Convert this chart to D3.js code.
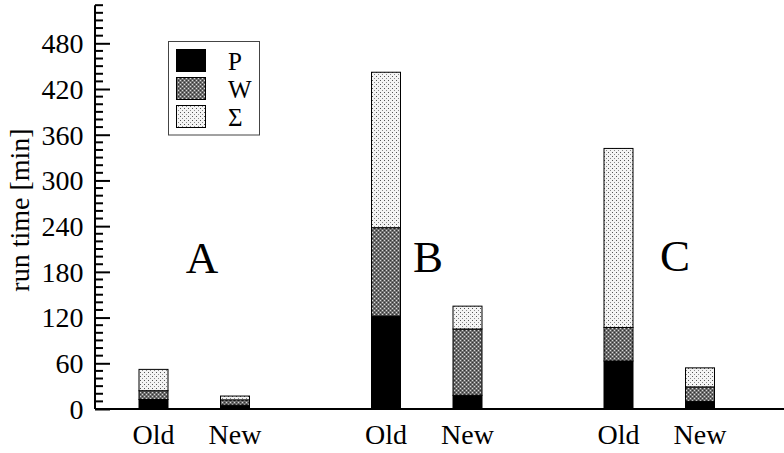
<!DOCTYPE html>
<html><head><meta charset="utf-8">
<script src="https://cdn.jsdelivr.net/npm/d3@7"></script>
<style>html,body{margin:0;padding:0;background:#fff;} svg{display:block;font-family:"Liberation Serif","Times New Roman",serif;}</style>
</head><body>
<script>
const groups = ["A", "B", "C"];
const versions = ["Old", "New"];
const seriesNames = ["P", "W", "Σ"];
// per bar in order: A-Old, A-New, B-Old, B-New, C-Old, C-New  (minutes)
const pValues = [12.5, 5, 122, 18, 63, 10];
const wValues = [11.5, 7, 116, 87, 44, 19];
const sValues = [28, 5, 204, 30, 235, 25];
const yTicks = [0, 60, 120, 180, 240, 300, 360, 420, 480];

const W = 784, H = 453;
const svg = d3.select("body").append("svg").attr("width", W).attr("height", H);

const defs = svg.append("defs");
// W pattern: dark grey checker
const pw = defs.append("pattern").attr("id", "patW").attr("patternUnits", "userSpaceOnUse").attr("width", 4).attr("height", 4);
pw.append("rect").attr("width", 4).attr("height", 4).attr("fill", "#6e6e6e");
pw.append("rect").attr("x", 0).attr("y", 0).attr("width", 1).attr("height", 1).attr("fill", "#d8d8d8");
pw.append("rect").attr("x", 2).attr("y", 2).attr("width", 1).attr("height", 1).attr("fill", "#d8d8d8");
pw.append("rect").attr("x", 2).attr("y", 0).attr("width", 1).attr("height", 1).attr("fill", "#333");
pw.append("rect").attr("x", 0).attr("y", 2).attr("width", 1).attr("height", 1).attr("fill", "#333");
// Σ pattern: sparse dots on white
const ps = defs.append("pattern").attr("id", "patS").attr("patternUnits", "userSpaceOnUse").attr("width", 4).attr("height", 4);
ps.append("rect").attr("width", 4).attr("height", 4).attr("fill", "#f4f4f4");
ps.append("rect").attr("x", 0).attr("y", 0).attr("width", 1).attr("height", 1).attr("fill", "#555");
ps.append("rect").attr("x", 2).attr("y", 2).attr("width", 1).attr("height", 1).attr("fill", "#888");

const fills = {"P": "#000", "W": "url(#patW)", "Σ": "url(#patS)"};

const y = d3.scaleLinear().domain([0, 530]).range([409, 5.2]);
const xg = d3.scalePoint().domain(groups).range([194.25, 659.25]);
const xv = d3.scalePoint().domain(versions).range([-40.75, 40.75]);
const barW = 29;

const rows = [];
groups.forEach((g, gi) => versions.forEach((v, vi) => {
  const i = gi * versions.length + vi;
  rows.push({group: g, version: v, "P": pValues[i], "W": wValues[i], "Σ": sValues[i]});
}));
const stacked = d3.stack().keys(seriesNames)(rows);

const axisX = 95;
// bars
const gBars = svg.append("g");
stacked.forEach(layer => {
  gBars.selectAll(null).data(layer).enter().append("rect")
    .attr("x", d => xg(d.data.group) + xv(d.data.version) - barW / 2)
    .attr("y", d => y(d[1]))
    .attr("width", barW)
    .attr("height", d => y(d[0]) - y(d[1]))
    .attr("fill", fills[layer.key])
    .attr("stroke", "#000").attr("stroke-width", 1);
});

// y axis
const yAxis = d3.axisRight(y).tickValues(yTicks).tickSize(15).tickFormat("");
const ga = svg.append("g").attr("transform", `translate(${axisX},0)`).call(yAxis);
ga.select(".domain").remove();
ga.selectAll(".tick line").attr("stroke", "#000").attr("stroke-width", 2);
const minor = d3.range(0, 531, 10).filter(v => v % 60 !== 0);
svg.append("g").selectAll("line").data(minor).enter().append("line")
  .attr("x1", axisX).attr("x2", axisX + 8)
  .attr("y1", d => y(d)).attr("y2", d => y(d))
  .attr("stroke", "#000").attr("stroke-width", 2);
svg.append("line").attr("x1", axisX).attr("x2", axisX).attr("y1", y(530)).attr("y2", y(0))
  .attr("stroke", "#000").attr("stroke-width", 2);
svg.append("g").selectAll("text").data(yTicks).enter().append("text")
  .attr("x", axisX - 11.5).attr("y", d => y(d)).attr("dy", "0.35em")
  .attr("text-anchor", "end").attr("font-size", 28).text(d => d);

// x baseline
svg.append("line").attr("x1", axisX).attr("x2", W).attr("y1", y(0)).attr("y2", y(0))
  .attr("stroke", "#000").attr("stroke-width", 2);
// x labels
svg.append("g").selectAll("text").data(rows).enter().append("text")
  .attr("x", d => xg(d.group) + xv(d.version)).attr("y", 444)
  .attr("text-anchor", "middle").attr("font-size", 28).text(d => d.version);

// axis title
svg.append("text").attr("transform", "translate(28.5,210) rotate(-90)")
  .attr("text-anchor", "middle").attr("font-size", 28).text("run time [min]");

// group letters
const letterPos = [{t: "A", x: 202, y: 273}, {t: "B", x: 428, y: 272}, {t: "C", x: 675, y: 271}];
svg.append("g").selectAll("text").data(letterPos).enter().append("text")
  .attr("x", d => d.x).attr("y", d => d.y).attr("text-anchor", "middle")
  .attr("font-size", 45).text(d => d.t);

// legend
const lg = svg.append("g");
lg.append("rect").attr("x", 168.5).attr("y", 41.5).attr("width", 91).attr("height", 93.5)
  .attr("fill", "#fff").attr("stroke", "#444").attr("stroke-width", 1);
seriesNames.forEach((s, i) => {
  lg.append("rect").attr("x", 176.5).attr("y", 49.5 + i * 28).attr("width", 29).attr("height", 22)
    .attr("fill", fills[s]).attr("stroke", "#000").attr("stroke-width", 1);
  lg.append("text").attr("x", 228).attr("y", 69.5 + i * 28).attr("font-size", 25).text(s);
});
</script>
</body></html>
